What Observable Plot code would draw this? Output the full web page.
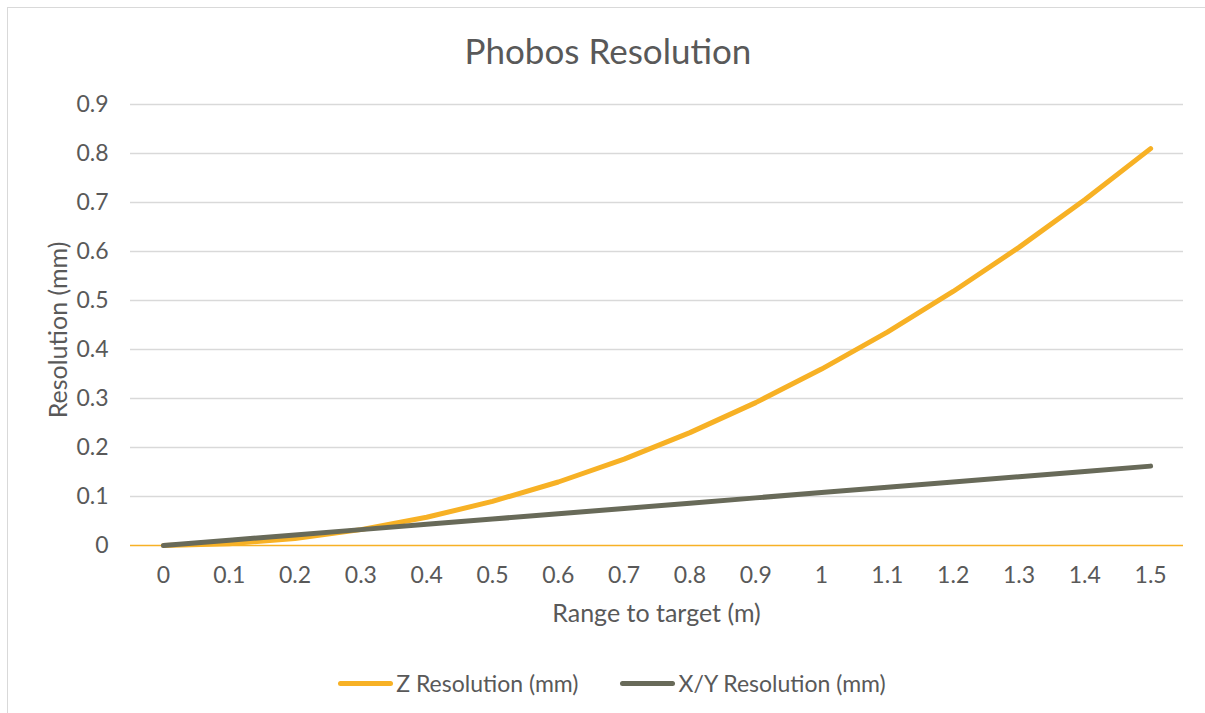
<!DOCTYPE html>
<html>
<head>
<meta charset="utf-8">
<script src="https://cdn.jsdelivr.net/npm/d3@7"></script>
<script src="https://cdn.jsdelivr.net/npm/@observablehq/plot@0.6"></script>
<style>
  html, body { margin: 0; padding: 0; background: #fff; }
  #wrap { position: relative; width: 1205px; height: 713px; overflow: hidden; font-family: Lato, "Open Sans", sans-serif; color: #595959; }
  #frame { position: absolute; left: 7px; top: 7px; width: 1300px; height: 800px; border-left: 1px solid #d9d9d9; border-top: 1px solid #d9d9d9; }
  #title { position: absolute; left: 0; top: 30px; width: 1216px; text-align: center; font-size: 35px; line-height: 40px; }
  #chart { position: absolute; left: 0; top: 80px; }
  #xtitle { position: absolute; left: 130px; width: 1053px; top: 596px; text-align: center; font-size: 25px; line-height: 32px; }
  #ytitle { position: absolute; left: -93px; top: 314px; width: 300px; height: 32px; text-align: center; font-size: 25px; line-height: 32px; transform: rotate(-90deg); }
  #legend { position: absolute; left: 0; top: 668px; width: 1224px; display: flex; justify-content: center; gap: 42px; font-size: 23px; line-height: 30px; }
  .item { display: flex; align-items: center; }
  .sw { width: 55px; height: 5px; border-radius: 3px; margin-right: 3px; }
</style>
</head>
<body>
<div id="wrap">
  <div id="frame"></div>
  <div id="title">Phobos Resolution</div>
  <div id="chart"></div>
  <div id="xtitle">Range to target (m)</div>
  <div id="ytitle">Resolution (mm)</div>
  <div id="legend"></div>
</div>
<script>
// Data
const ranges = ["0","0.1","0.2","0.3","0.4","0.5","0.6","0.7","0.8","0.9","1","1.1","1.2","1.3","1.4","1.5"];
const zResolution = [0, 0.0036, 0.0144, 0.0324, 0.0576, 0.09, 0.1296, 0.1764, 0.2304, 0.2916, 0.36, 0.4356, 0.5184, 0.6084, 0.7056, 0.81];
const xyResolution = [0, 0.0108, 0.0216, 0.0324, 0.0432, 0.054, 0.0648, 0.0756, 0.0864, 0.0972, 0.108, 0.1188, 0.1296, 0.1404, 0.1512, 0.162];
const seriesNames = ["Z Resolution (mm)", "X/Y Resolution (mm)"];
const seriesColors = ["#F7B125", "#686A59"];
const yTicks = [0, 0.1, 0.2, 0.3, 0.4, 0.5, 0.6, 0.7, 0.8, 0.9];
const yTickLabels = ["0", "0.1", "0.2", "0.3", "0.4", "0.5", "0.6", "0.7", "0.8", "0.9"];

const rows = [];
ranges.forEach((r, i) => {
  rows.push({range: r, value: zResolution[i], series: seriesNames[0]});
  rows.push({range: r, value: xyResolution[i], series: seriesNames[1]});
});

const chart = Plot.plot({
  width: 1205,
  height: 570,
  marginLeft: 130,
  marginRight: 22,
  marginTop: 24,
  marginBottom: 105,
  style: {fontFamily: "Lato, 'Open Sans', sans-serif", fontSize: "23px", color: "#595959", background: "transparent"},
  x: {type: "point", domain: ranges, padding: 0.5, round: false},
  y: {domain: [0, 0.9]},
  color: {domain: seriesNames, range: seriesColors},
  marks: [
    Plot.ruleY(yTicks.filter(d => d > 0), {stroke: "#d9d9d9", strokeWidth: 1.3}),
    Plot.ruleY([0], {stroke: "#F7B125", strokeWidth: 1.5}),
    Plot.axisX({ticks: ranges, tickSize: 0, tickPadding: 21, fill: "#595959", fontSize: 23, label: null}),
    Plot.axisY({ticks: yTicks, tickFormat: d => yTickLabels[yTicks.indexOf(d)], tickSize: 0, tickPadding: 22, fill: "#595959", fontSize: 23, label: null}),
    Plot.line(rows, {x: "range", y: "value", z: "series", stroke: "series", strokeWidth: 5, strokeLinecap: "round", strokeLinejoin: "round"})
  ]
});
document.getElementById("chart").appendChild(chart);

const legend = document.getElementById("legend");
seriesNames.forEach((name, i) => {
  const item = document.createElement("div");
  item.className = "item";
  const sw = document.createElement("div");
  sw.className = "sw";
  sw.style.background = seriesColors[i];
  const label = document.createElement("span");
  label.textContent = name;
  item.appendChild(sw);
  item.appendChild(label);
  legend.appendChild(item);
});
</script>
</body>
</html>
